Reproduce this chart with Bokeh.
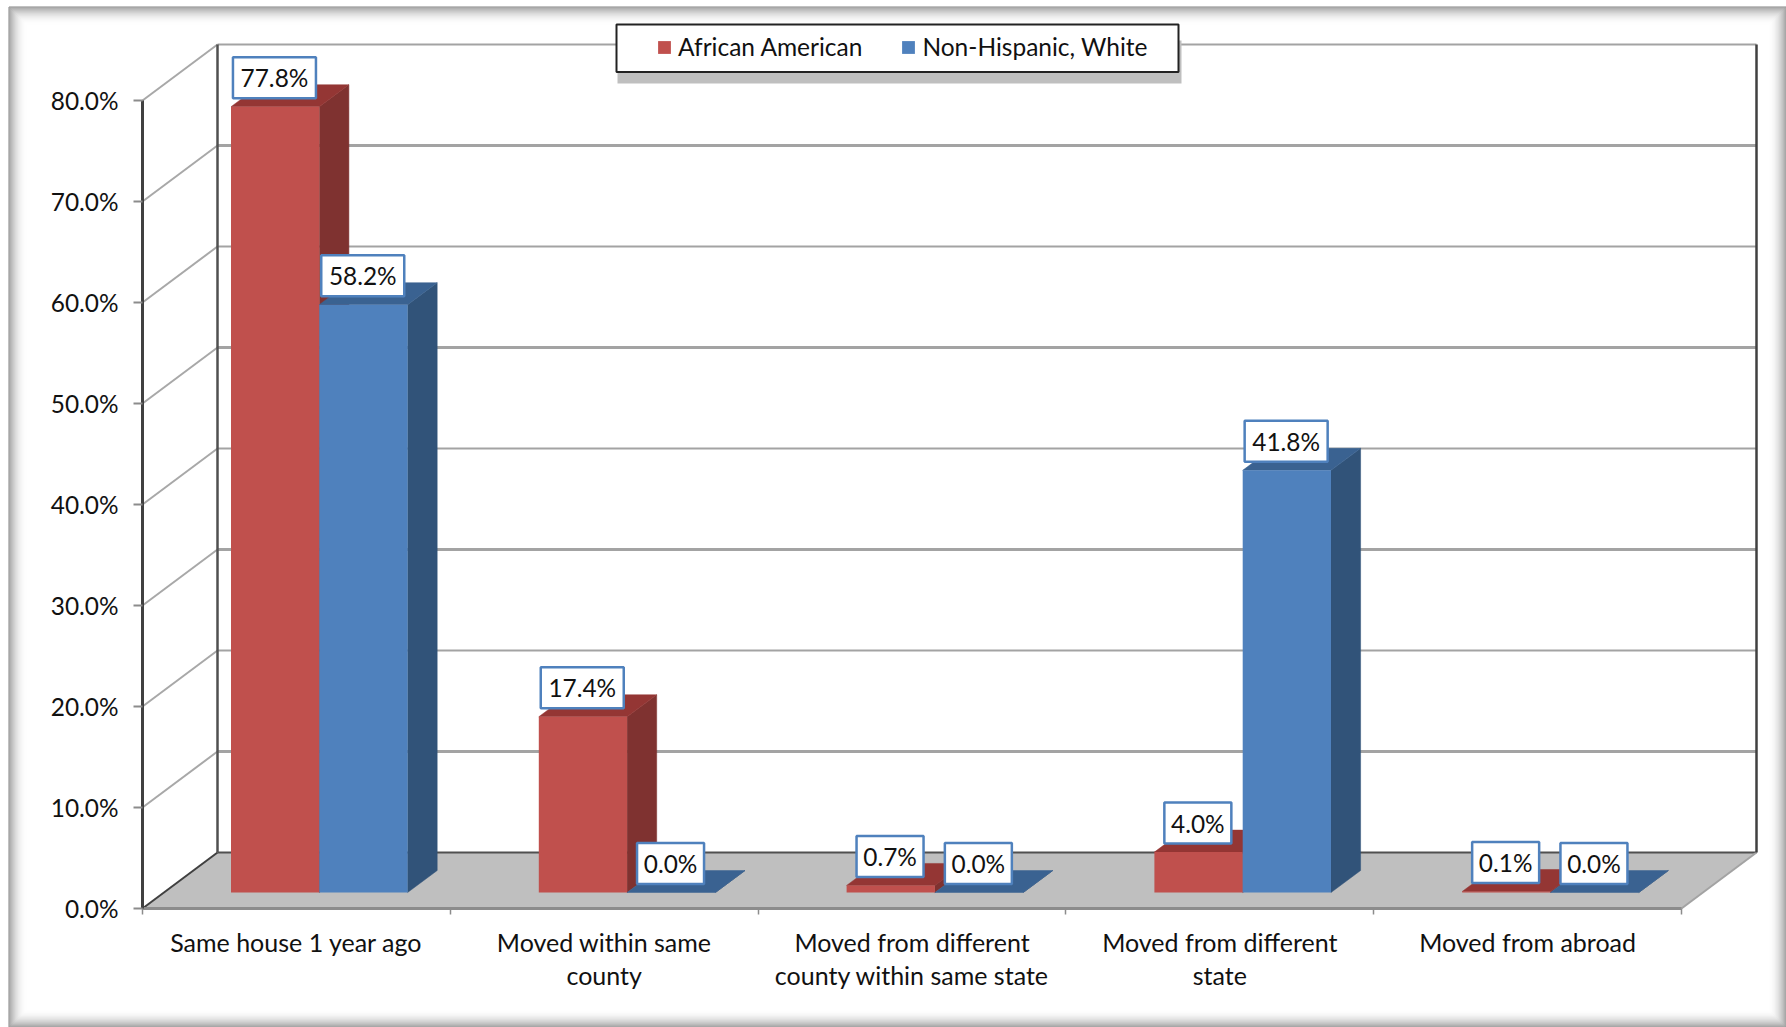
from bokeh.plotting import figure
from bokeh.embed import file_html
from bokeh.resources import INLINE
from bokeh.models import Range1d, LinearAxis, FixedTicker, PrintfTickFormatter, Legend, LegendItem, ColumnDataSource
from bokeh.core.properties import value

categories = ["Same house 1 year ago", "Moved within same\ncounty", "Moved from different\ncounty within same state",
              "Moved from different\nstate", "Moved from abroad"]
african_american = [77.8, 17.4, 0.7, 4.0, 0.1]
non_hispanic_white = [58.2, 0.0, 0.0, 41.8, 0.0]
y_ticks = [0, 10, 20, 30, 40, 50, 60, 70, 80]

FONT = "Lato"
W, H = 1786, 1027
PX_X0, CAT_W = 142.0, 307.8     # canvas px of category 0 / px per category
PX_Y0, PCT_H = 908.0, 10.1      # canvas px of 0% / px per percent

def X(px): return (px - PX_X0) / CAT_W
def Y(py): return (PX_Y0 - py) / PCT_H

p = figure(width=W, height=H, output_backend="svg", toolbar_location=None,
           x_range=Range1d(X(0), X(W)), y_range=Range1d(Y(H), Y(0)),
           x_axis_type=None, y_axis_type=None, min_border=0, outline_line_color=None,
           background_fill_color="white", border_fill_color="white")
p.grid.visible = False

# picture frame, an inner shadow that fades to white
N = 18
for i in range(N):
    g = int(255 - 125 * (1 - i / N) ** 2)
    p.quad(left=X(8.5 + i), right=X(1785.5 - i), bottom=Y(1026.5 - i), top=Y(6.5 + i),
           fill_color=None, line_color=f"#{g:02x}{g:02x}{g:02x}", line_width=1)

# 3-D box
WALL_DX, WALL_DY = 75 / CAT_W, 56 / PCT_H
x_end = len(categories)
p.patch([0, WALL_DX, x_end + WALL_DX, x_end], [0, WALL_DY, WALL_DY, 0], fill_color="#BFBFBF", line_color=None)
for t in y_ticks[1:] + [0]:
    col = "#A3A3A3" if t else "#505050"
    p.line([WALL_DX, x_end + WALL_DX], [t + WALL_DY, t + WALL_DY], line_color=col,
           line_width=3 if t % 20 else 2)
    if t:
        p.line([0, WALL_DX], [t, t + WALL_DY], line_color="#A8A8A8", line_width=2)
p.line([0, WALL_DX], [0, WALL_DY], line_color="#404040", line_width=2)
p.line([x_end, x_end + WALL_DX], [0, WALL_DY], line_color="#A3A3A3", line_width=2)
top = y_ticks[-1] + WALL_DY
p.line([WALL_DX, WALL_DX], [WALL_DY, top], line_color="#505050", line_width=2.5)
p.line([x_end + WALL_DX, x_end + WALL_DX], [WALL_DY, top], line_color="#404040", line_width=2.5)

# bars
BAR_W = 88.3 / CAT_W
BAR_X0 = (230.5 - PX_X0) / CAT_W
BAR_Y0 = (PX_Y0 - 892) / PCT_H
D_X, D_Y = 29.6 / CAT_W, 22.0 / PCT_H

def draw(values, k, front, side, roof):
    l = [i + BAR_X0 + k * BAR_W for i in range(len(values))]
    r = [a + BAR_W for a in l]
    t = [BAR_Y0 + v for v in values]
    b = [BAR_Y0] * len(values)
    p.patches([[x1, x1 + D_X, x1 + D_X, x1] for x1 in r],
              [[y0, y0 + D_Y, y1 + D_Y, y1] for y0, y1 in zip(b, t)],
              fill_color=side, line_color=side, line_width=0.5)
    p.patches([[x0, x0 + D_X, x1 + D_X, x1] for x0, x1 in zip(l, r)],
              [[y1, y1 + D_Y, y1 + D_Y, y1] for y1 in t],
              fill_color=roof, line_color=roof, line_width=0.5)
    return p.quad(left=l, right=r, bottom=b, top=t, fill_color=front, line_color=None)

red = draw(african_american, 0, "#C0504D", "#7F3230", "#943634")
blue = draw(non_hispanic_white, 1, "#4F81BD", "#315379", "#3A6291")

# axes
ax = LinearAxis(ticker=FixedTicker(ticks=y_ticks), formatter=PrintfTickFormatter(format="%.1f%%"),
                fixed_location=0, bounds=(0, y_ticks[-1]),
                major_tick_out=9, major_tick_in=0, minor_tick_out=0, minor_tick_in=0,
                major_tick_line_color="#8C8C8C", major_tick_line_width=2,
                axis_line_color="#404040", axis_line_width=3, major_label_standoff=15,
                major_label_text_font=FONT, major_label_text_font_size="24.4px", major_label_text_color="#111111")
p.add_layout(ax, "left")
bx = LinearAxis(ticker=FixedTicker(ticks=[i + 0.5 for i in range(x_end)], minor_ticks=list(range(x_end + 1))),
                fixed_location=0, bounds=(0, x_end),
                major_label_overrides={i + 0.5: c for i, c in enumerate(categories)},
                major_tick_out=0, major_tick_in=0, minor_tick_out=6, minor_tick_in=0,
                minor_tick_line_color="#8C8C8C", minor_tick_line_width=1.5,
                axis_line_color="#8C8C8C", axis_line_width=3, major_label_standoff=12,
                major_label_text_font=FONT, major_label_text_font_size="25px", major_label_text_color="#111111",
                major_label_text_line_height=1.1)
p.add_layout(bx, "below")

# data labels
LABEL_DY = 29 / PCT_H
for k, values in enumerate((african_american, non_hispanic_white)):
    cx = [i + BAR_X0 + (k + 0.5) * BAR_W - 0.7 / CAT_W for i in range(len(values))]
    cy = [BAR_Y0 + v + LABEL_DY for v in values]
    txt = [f"{v:.1f}%" for v in values]
    src = ColumnDataSource(dict(x=cx, y=cy, t=txt, w=[16 * len(s) + 3 for s in txt]))
    p.rect(x="x", y="y", width="w", height=41, width_units="screen", height_units="screen", source=src,
           fill_color="white", line_color="#4F81BD", line_width=2.5)
    p.text(x="x", y="y", text="t", source=src, text_align="center", text_baseline="middle",
           text_font=value(FONT), text_font_size="24.4px", text_color="#111111")

# legend box
p.quad(left=X(617), right=X(1181), top=Y(40), bottom=Y(83), fill_color="#BFBFBF", line_color=None)
p.quad(left=X(616), right=X(1178), top=Y(24), bottom=Y(71.5), fill_color="white", line_color="#222222", line_width=2)
legend = Legend(items=[LegendItem(label="African American", renderers=[red]),
                       LegendItem(label="Non-Hispanic, White", renderers=[blue])],
                orientation="horizontal", location=(656, 966), padding=0, margin=0, spacing=38,
                glyph_width=16, glyph_height=16, label_standoff=6,
                label_text_font=FONT, label_text_font_size="24.5px", label_text_color="#111111",
                background_fill_alpha=0, border_line_alpha=0)
p.add_layout(legend)

open("out.html", "w").write(file_html(p, INLINE))
